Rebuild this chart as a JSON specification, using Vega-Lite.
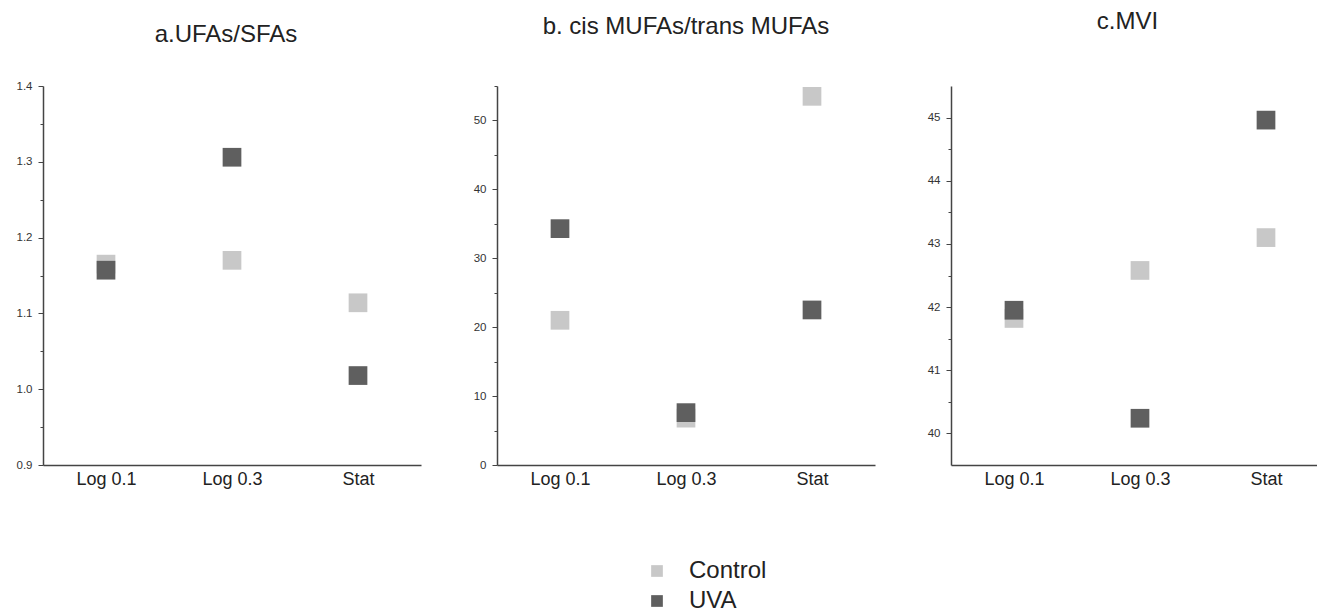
{
  "$schema": "https://vega.github.io/schema/vega-lite/v6.json",
  "background": "white",
  "padding": {"left": 16, "top": 10, "right": 0, "bottom": 0},
  "spacing": 76,
  "bounds": "flush",
  "config": {
    "font": "Liberation Sans",
    "view": {"stroke": null},
    "axis": {"domainColor": "#444444", "domainWidth": 1.5, "tickColor": "#444444", "tickWidth": 1, "labelColor": "#333333", "grid": false, "title": null},
    "title": {"font": "Liberation Sans", "fontSize": 24, "fontWeight": "normal", "color": "#222222", "anchor": "middle", "baseline": "alphabetic"}
  },
  "datasets": {
    "pts": [
      {"panel": "a", "condition": "Log 0.1", "group": "Control", "value": 1.165},
      {"panel": "a", "condition": "Log 0.3", "group": "Control", "value": 1.170},
      {"panel": "a", "condition": "Stat", "group": "Control", "value": 1.114},
      {"panel": "a", "condition": "Log 0.1", "group": "UVA", "value": 1.157},
      {"panel": "a", "condition": "Log 0.3", "group": "UVA", "value": 1.306},
      {"panel": "a", "condition": "Stat", "group": "UVA", "value": 1.018},
      {"panel": "b", "condition": "Log 0.1", "group": "Control", "value": 21.0},
      {"panel": "b", "condition": "Log 0.3", "group": "Control", "value": 6.8},
      {"panel": "b", "condition": "Stat", "group": "Control", "value": 53.5},
      {"panel": "b", "condition": "Log 0.1", "group": "UVA", "value": 34.3},
      {"panel": "b", "condition": "Log 0.3", "group": "UVA", "value": 7.6},
      {"panel": "b", "condition": "Stat", "group": "UVA", "value": 22.5},
      {"panel": "c", "condition": "Log 0.1", "group": "Control", "value": 41.82},
      {"panel": "c", "condition": "Log 0.3", "group": "Control", "value": 42.58},
      {"panel": "c", "condition": "Stat", "group": "Control", "value": 43.10},
      {"panel": "c", "condition": "Log 0.1", "group": "UVA", "value": 41.95},
      {"panel": "c", "condition": "Log 0.3", "group": "UVA", "value": 40.24},
      {"panel": "c", "condition": "Stat", "group": "UVA", "value": 44.96}
    ]
  },
  "hconcat": [
    {
      "width": 378, "height": 379,
      "data": {"name": "pts"},
      "title": {"text": "a.UFAs/SFAs", "offset": 33, "dx": -6},
      "transform": [{"filter": "datum.panel === 'a'"}],
      "mark": {"type": "point", "shape": "square", "filled": true, "size": 350, "opacity": 1},
      "encoding": {
        "x": {"field": "condition", "type": "nominal", "sort": ["Log 0.1", "Log 0.3", "Stat"], "scale": {"type": "point", "padding": 0.5},
              "axis": {"ticks": false, "labelAngle": 0, "labelFontSize": 18, "labelColor": "#222222", "labelPadding": 5}},
        "y": {"field": "value", "type": "quantitative", "scale": {"domain": [0.9, 1.4], "nice": false, "zero": false},
              "axis": {"values": [0.9, 0.95, 1.0, 1.05, 1.1, 1.15, 1.2, 1.25, 1.3, 1.35, 1.4],
                       "labelExpr": "abs(datum.value*10 - round(datum.value*10)) < 0.000001 ? format(datum.value, '.1f') : ''",
                       "tickSize": {"condition": {"test": "abs(datum.value*10 - round(datum.value*10)) < 0.000001", "value": 5}, "value": 3},
                       "labelFontSize": 11.5, "labelPadding": 6}},
        "color": {"field": "group", "type": "nominal", "scale": {"domain": ["Control", "UVA"], "range": ["#c8c8c8", "#5f5f5f"]},
                  "legend": {"orient": "none", "legendX": 602, "legendY": 473, "direction": "vertical", "title": null, "symbolType": "square", "symbolSize": 137, "symbolStrokeWidth": 0, "labelFontSize": 24, "labelOffset": 20, "rowPadding": 6, "padding": 0, "labelColor": "#222222"}}
      }
    },
    {
      "width": 378, "height": 379,
      "data": {"name": "pts"},
      "title": {"text": "b. cis MUFAs/trans MUFAs", "offset": 47},
      "transform": [{"filter": "datum.panel === 'b'"}],
      "mark": {"type": "point", "shape": "square", "filled": true, "size": 350, "opacity": 1},
      "encoding": {
        "x": {"field": "condition", "type": "nominal", "sort": ["Log 0.1", "Log 0.3", "Stat"], "scale": {"type": "point", "padding": 0.5},
              "axis": {"ticks": false, "labelAngle": 0, "labelFontSize": 18, "labelColor": "#222222", "labelPadding": 5}},
        "y": {"field": "value", "type": "quantitative", "scale": {"domain": [0, 55], "nice": false, "zero": false},
              "axis": {"values": [0, 5, 10, 15, 20, 25, 30, 35, 40, 45, 50, 55],
                       "labelExpr": "datum.value % 10 === 0 ? format(datum.value, 'd') : ''",
                       "tickSize": {"condition": {"test": "datum.value % 10 === 0", "value": 5}, "value": 3},
                       "labelFontSize": 11.5, "labelPadding": 6}},
        "color": {"field": "group", "type": "nominal", "scale": {"domain": ["Control", "UVA"], "range": ["#c8c8c8", "#5f5f5f"]},
                  "legend": {"orient": "none", "legendX": 602, "legendY": 473, "direction": "vertical", "title": null, "symbolType": "square", "symbolSize": 137, "symbolStrokeWidth": 0, "labelFontSize": 24, "labelOffset": 20, "rowPadding": 6, "padding": 0, "labelColor": "#222222"}}
      }
    },
    {
      "width": 367, "height": 379,
      "data": {"name": "pts"},
      "title": {"text": "c.MVI", "offset": 52, "dx": -7},
      "transform": [{"filter": "datum.panel === 'c'"}],
      "mark": {"type": "point", "shape": "square", "filled": true, "size": 350, "opacity": 1},
      "encoding": {
        "x": {"field": "condition", "type": "nominal", "sort": ["Log 0.1", "Log 0.3", "Stat"], "scale": {"type": "point", "padding": 0.4563, "align": 0.5478},
              "axis": {"ticks": false, "labelAngle": 0, "labelFontSize": 18, "labelColor": "#222222", "labelPadding": 5}},
        "y": {"field": "value", "type": "quantitative", "scale": {"domain": [39.5, 45.5], "nice": false, "zero": false},
              "axis": {"values": [40, 40.5, 41, 41.5, 42, 42.5, 43, 43.5, 44, 44.5, 45],
                       "labelExpr": "datum.value % 1 === 0 ? format(datum.value, 'd') : ''",
                       "tickSize": {"condition": {"test": "datum.value % 1 === 0", "value": 5}, "value": 3},
                       "labelFontSize": 11.5, "labelPadding": 6}},
        "color": {"field": "group", "type": "nominal", "scale": {"domain": ["Control", "UVA"], "range": ["#c8c8c8", "#5f5f5f"]},
                  "legend": {"orient": "none", "legendX": 602, "legendY": 473, "direction": "vertical", "title": null, "symbolType": "square", "symbolSize": 137, "symbolStrokeWidth": 0, "labelFontSize": 24, "labelOffset": 20, "rowPadding": 6, "padding": 0, "labelColor": "#222222"}}
      }
    }
  ]
}
